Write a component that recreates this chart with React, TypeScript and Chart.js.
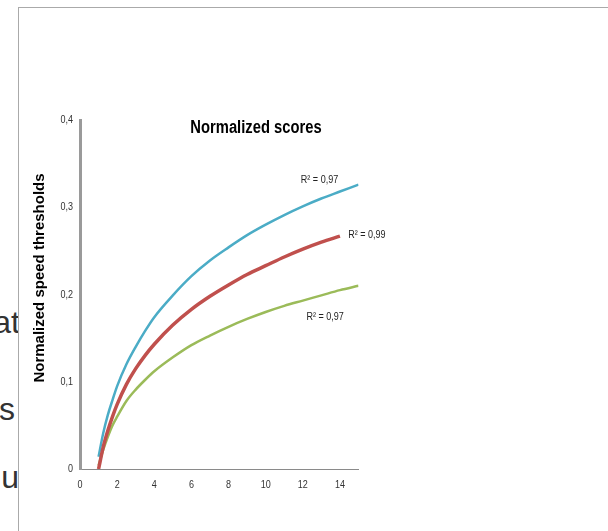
import React, { useEffect, useRef } from "react";
import { Chart, registerables } from "chart.js";

Chart.register(...registerables);

const blueX = [1, 1.25, 1.5, 1.75, 2, 2.5, 3, 3.5, 4, 5, 6, 7, 8, 9, 10, 11, 12, 13, 14, 15];
const blueY = [0.014, 0.041, 0.062, 0.079, 0.095, 0.12, 0.14, 0.158, 0.174, 0.199, 0.221, 0.239, 0.254, 0.268, 0.28, 0.291, 0.301, 0.31, 0.318, 0.326];

const redX = [1, 1.25, 1.5, 1.75, 2, 2.5, 3, 3.5, 4, 5, 6, 7, 8, 9, 10, 11, 12, 13, 14];
const redY = [0, 0.025, 0.044, 0.06, 0.074, 0.097, 0.115, 0.13, 0.143, 0.165, 0.183, 0.198, 0.211, 0.223, 0.233, 0.243, 0.252, 0.26, 0.267];

const greenX = [1, 1.25, 1.5, 1.75, 2, 2.5, 3, 3.5, 4, 5, 6, 7, 8, 9, 10, 11, 12, 13, 14, 15];
const greenY = [0.004, 0.022, 0.037, 0.05, 0.06, 0.078, 0.091, 0.102, 0.112, 0.128, 0.142, 0.153, 0.163, 0.172, 0.18, 0.187, 0.193, 0.199, 0.205, 0.21];

const seriesNames = ["Blue", "Red", "Green"];
const rSquaredLabels = ["R² = 0,97", "R² = 0,99", "R² = 0,97"];
const chartTitle = "Normalized scores";
const yAxisTitle = "Normalized speed thresholds";
const xTicks = [0, 2, 4, 6, 8, 10, 12, 14];
const yTicks = [0, 0.1, 0.2, 0.3, 0.4];
const yTickLabels = ["0", "0,1", "0,2", "0,3", "0,4"];
const sideFragments = ["at", "s", "u"];

const SANS = "'Liberation Sans', Arial, sans-serif";
const CONDENSE = 0.82;

const pts = (xs: number[], ys: number[]) => xs.map((x, i) => ({ x, y: ys[i] }));

function condensedText(ctx: any, text: string, x: number, y: number, align: string) {
  ctx.save();
  ctx.translate(x, y);
  ctx.scale(CONDENSE, 1);
  ctx.textAlign = align;
  ctx.fillText(text, 0, 0);
  ctx.restore();
}

const textPlugin = {
  id: "extraText",
  afterDatasetsDraw(chart: any) {
    const { ctx, chartArea, scales } = chart;
    const xs = scales.x;
    const ys = scales.y;
    ctx.save();
    ctx.textBaseline = "middle";
    // tick labels
    ctx.fillStyle = "#333";
    ctx.font = `11px ${SANS}`;
    xTicks.forEach((v) => {
      condensedText(ctx, String(v), xs.getPixelForValue(v), chartArea.bottom + 16, "center");
    });
    yTicks.forEach((v, i) => {
      condensedText(ctx, yTickLabels[i], chartArea.left - 7, ys.getPixelForValue(v), "right");
    });
    // chart title
    ctx.fillStyle = "#000";
    ctx.font = `bold 18px ${SANS}`;
    condensedText(ctx, chartTitle, chartArea.left + 176, chartArea.top + 8, "center");
    // y axis title
    ctx.save();
    ctx.translate(40, 278);
    ctx.rotate(-Math.PI / 2);
    ctx.font = `bold 15px ${SANS}`;
    ctx.textAlign = "center";
    ctx.fillText(yAxisTitle, 0, 0);
    ctx.restore();
    // R² labels
    ctx.font = `11px ${SANS}`;
    ctx.fillStyle = "#222";
    condensedText(ctx, rSquaredLabels[0], xs.getPixelForValue(12.9), ys.getPixelForValue(0.331), "center");
    condensedText(ctx, rSquaredLabels[1], xs.getPixelForValue(14.45), ys.getPixelForValue(0.268), "left");
    condensedText(ctx, rSquaredLabels[2], xs.getPixelForValue(13.2), ys.getPixelForValue(0.174), "center");
    ctx.restore();
  },
};

function ChartView() {
  const ref = useRef<HTMLCanvasElement | null>(null);
  useEffect(() => {
    if (!ref.current) return;
    const chart = new Chart(ref.current, {
      type: "line",
      data: {
        datasets: [
          {
            label: seriesNames[1],
            data: pts(redX, redY),
            borderColor: "#C0504D",
            borderWidth: 3.5,
            order: 0,
          },
          {
            label: seriesNames[0],
            data: pts(blueX, blueY),
            borderColor: "#4BACC6",
            borderWidth: 2.5,
            order: 1,
          },
          {
            label: seriesNames[2],
            data: pts(greenX, greenY),
            borderColor: "#9BBB59",
            borderWidth: 2.5,
            order: 2,
          },
        ].map((d) => ({
          ...d,
          pointRadius: 0,
          fill: false,
          cubicInterpolationMode: "monotone" as const,
        })),
      },
      options: {
        animation: false,
        responsive: false,
        layout: { padding: { left: 20, right: 249.5, top: 120, bottom: 32 } },
        plugins: {
          legend: { display: false },
          tooltip: { enabled: false },
          title: { display: false },
        },
        scales: {
          x: {
            type: "linear",
            min: 0,
            max: 15,
            afterFit: (s: any) => {
              s.height = 30;
            },
            afterBuildTicks: (s: any) => {
              s.ticks = xTicks.map((v) => ({ value: v }));
            },
            grid: { display: false, drawTicks: false },
            border: { display: true, color: "#8a8a8a", width: 1 },
            ticks: { display: false },
          },
          y: {
            type: "linear",
            min: 0,
            max: 0.4,
            afterFit: (s: any) => {
              s.width = 60;
            },
            afterBuildTicks: (s: any) => {
              s.ticks = yTicks.map((v) => ({ value: v }));
            },
            grid: { display: false, drawTicks: false },
            border: { display: true, color: "#9a9a9a", width: 3 },
            ticks: { display: false },
          },
        },
      },
      plugins: [textPlugin],
    });
    return () => chart.destroy();
  }, []);
  return (
    <canvas
      ref={ref}
      width={608}
      height={531}
      style={{ position: "absolute", left: 0, top: 0, width: 608, height: 531 }}
    />
  );
}

export default function App() {
  const fragTops = [306, 393, 461];
  const fragRights = [-1, 4, 0];
  return (
    <div
      style={{
        position: "absolute",
        left: 0,
        top: 0,
        width: 608,
        height: 531,
        overflow: "hidden",
        background: "#fff",
      }}
    >
      <div
        style={{
          position: "absolute",
          left: 0,
          top: 0,
          width: 19,
          height: 531,
          overflow: "hidden",
        }}
      >
        {sideFragments.map((t, i) => (
          <span
            key={i}
            style={{
              position: "absolute",
              right: fragRights[i],
              top: fragTops[i],
              fontFamily: SANS,
              fontSize: 32,
              lineHeight: 1,
              color: "#333",
              whiteSpace: "nowrap",
            }}
          >
            {t}
          </span>
        ))}
      </div>
      <div
        style={{
          position: "absolute",
          left: 18,
          top: 7,
          right: 0,
          bottom: 0,
          borderTop: "1px solid #aaa",
          borderLeft: "1px solid #aaa",
        }}
      />
      <ChartView />
    </div>
  );
}
